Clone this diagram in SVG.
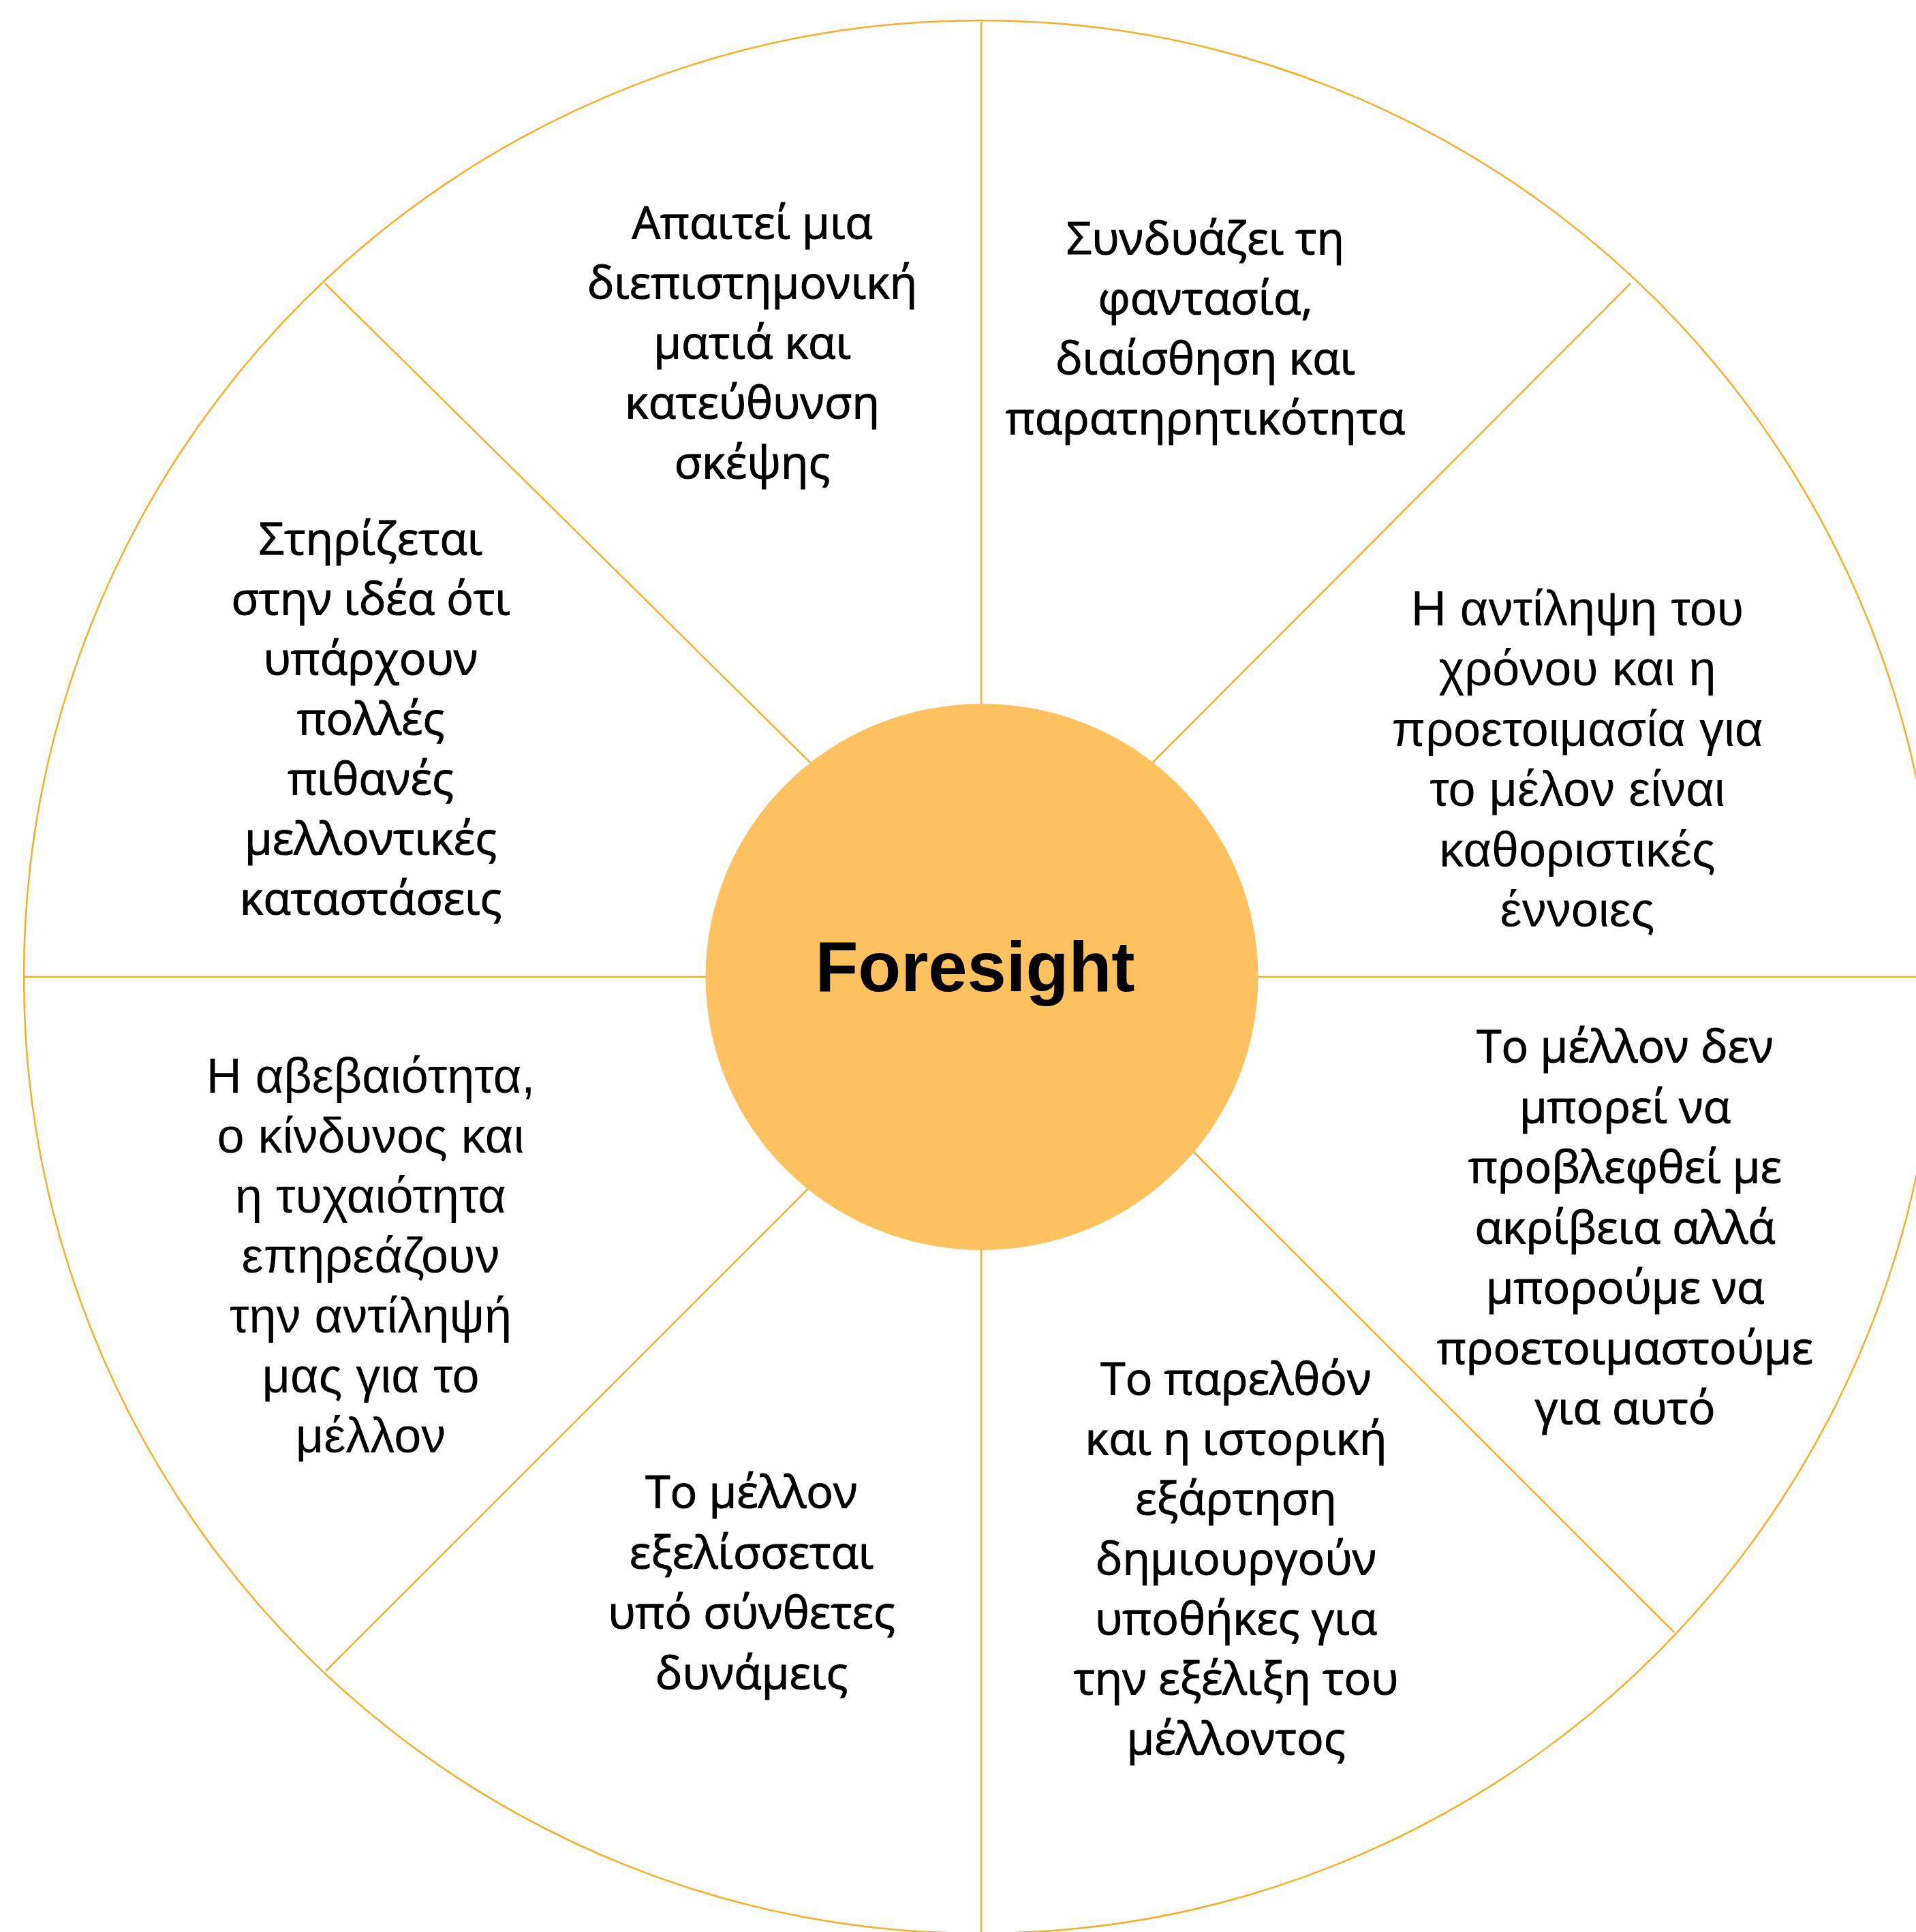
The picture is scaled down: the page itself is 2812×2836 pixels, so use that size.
<svg xmlns="http://www.w3.org/2000/svg" width="2812" height="2836" viewBox="0 0 2812 2836">
<style>
.ln{stroke:#F6AE2D;stroke-width:2.5;fill:none}
.c{font-family:"Open Sans","Noto Sans",sans-serif;font-size:66px;fill:#000;stroke:#000;stroke-width:1.1px;text-anchor:middle}
.a{font-family:"Liberation Sans",Arial,sans-serif;font-size:72px;fill:#000;text-anchor:middle}
.t{font-family:"Liberation Sans",Arial,sans-serif;font-size:103px;font-weight:bold;fill:#000;text-anchor:middle}
</style>
<rect width="2812" height="2836" fill="#fff"/>
<g id="connectors">
<circle class="ln" cx="1439" cy="1434" r="1404"/>
<line class="ln" x1="1440" y1="32" x2="1440" y2="1100"/>
<line class="ln" x1="1440" y1="1780" x2="1440" y2="2836"/>
<line class="ln" x1="35" y1="1434" x2="1100" y2="1434"/>
<line class="ln" x1="1780" y1="1434" x2="2812" y2="1434"/>
<line class="ln" x1="477" y1="416" x2="1210" y2="1140"/>
<line class="ln" x1="2393" y1="416" x2="1672" y2="1139"/>
<line class="ln" x1="2457" y1="2396" x2="1732" y2="1671"/>
<line class="ln" x1="478" y1="2453" x2="1206" y2="1725"/>
</g>
<g id="center">
<ellipse cx="1441" cy="1434" rx="405.5" ry="401" fill="#FDC25F"/>
<text class="t" x="1431" y="1455">Foresight</text>
</g>
<g id="n1">
<text class="c" x="1104"><tspan x="1104" y="350">Απαιτεί μια</tspan><tspan x="1104" y="438">διεπιστημονική</tspan><tspan x="1104" y="526">ματιά και</tspan><tspan x="1104" y="614">κατεύθυνση</tspan><tspan x="1104" y="702">σκέψης</tspan></text>
</g>
<g id="n2">
<text class="c" x="1769"><tspan x="1769" y="373">Συνδυάζει τη</tspan><tspan x="1769" y="461">φαντασία,</tspan><tspan x="1769" y="549">διαίσθηση και</tspan><tspan x="1769" y="637">παρατηρητικότητα</tspan></text>
</g>
<g id="n3">
<text class="a" x="2315"><tspan x="2315" y="918">Η αντίληψη του</tspan><tspan x="2315" y="1006">χρόνου και η</tspan><tspan x="2315" y="1095">προετοιμασία για</tspan><tspan x="2315" y="1183">το μέλον είναι</tspan><tspan x="2315" y="1272">καθοριστικές</tspan><tspan x="2315" y="1360">έννοιες</tspan></text>
</g>
<g id="n4">
<text class="c" x="2385"><tspan x="2385" y="1559">Το μέλλον δεν</tspan><tspan x="2385" y="1648">μπορεί να</tspan><tspan x="2385" y="1736">προβλεφθεί με</tspan><tspan x="2385" y="1825">ακρίβεια αλλά</tspan><tspan x="2385" y="1913">μπορούμε να</tspan><tspan x="2385" y="2002">προετοιμαστούμε</tspan><tspan x="2385" y="2090">για αυτό</tspan></text>
</g>
<g id="n5">
<text class="c" x="1814"><tspan x="1814" y="2047">Το παρελθόν</tspan><tspan x="1814" y="2135">και η ιστορική</tspan><tspan x="1814" y="2223">εξάρτηση</tspan><tspan x="1814" y="2311">δημιουργούν</tspan><tspan x="1814" y="2399">υποθήκες για</tspan><tspan x="1814" y="2487">την εξέλιξη του</tspan><tspan x="1814" y="2575">μέλλοντος</tspan></text>
</g>
<g id="n6">
<text class="c" x="1103"><tspan x="1103" y="2213">Το μέλλον</tspan><tspan x="1103" y="2302">εξελίσσεται</tspan><tspan x="1103" y="2390">υπό σύνθετες</tspan><tspan x="1103" y="2479">δυνάμεις</tspan></text>
</g>
<g id="n7">
<text class="a" x="544"><tspan x="544" y="1604">Η αβεβαιότητα,</tspan><tspan x="544" y="1692">ο κίνδυνος και</tspan><tspan x="544" y="1780">η τυχαιότητα</tspan><tspan x="544" y="1868">επηρεάζουν</tspan><tspan x="544" y="1956">την αντίληψή</tspan><tspan x="544" y="2044">μας για το</tspan><tspan x="544" y="2132">μέλλον</tspan></text>
</g>
<g id="n8">
<text class="c" x="544"><tspan x="544" y="814">Στηρίζεται</tspan><tspan x="544" y="902">στην ιδέα ότι</tspan><tspan x="544" y="990">υπάρχουν</tspan><tspan x="544" y="1078">πολλές</tspan><tspan x="544" y="1166">πιθανές</tspan><tspan x="544" y="1254">μελλοντικές</tspan><tspan x="544" y="1342">καταστάσεις</tspan></text>
</g>
</svg>
